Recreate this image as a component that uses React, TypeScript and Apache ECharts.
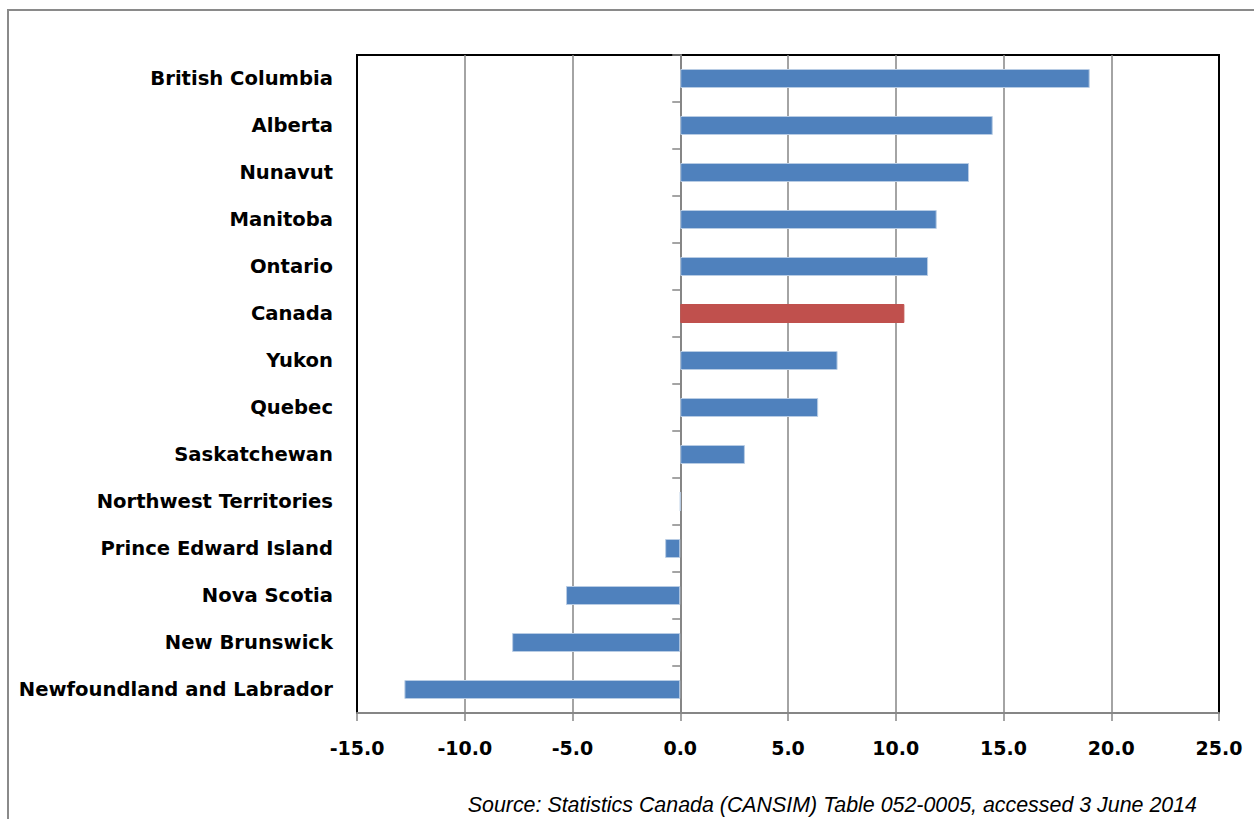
import React, { useEffect, useRef } from "react";
import * as echarts from "echarts";

const categories = [
  "British Columbia",
  "Alberta",
  "Nunavut",
  "Manitoba",
  "Ontario",
  "Canada",
  "Yukon",
  "Quebec",
  "Saskatchewan",
  "Northwest Territories",
  "Prince Edward Island",
  "Nova Scotia",
  "New Brunswick",
  "Newfoundland and Labrador",
];
const values = [19.0, 14.5, 13.4, 11.9, 11.5, 10.4, 7.3, 6.4, 3.0, 0.0, -0.7, -5.3, -7.8, -12.8];
const highlighted = ["Canada"];
const xTicks = [-15, -10, -5, 0, 5, 10, 15, 20, 25];
const sourceText = "Source: Statistics Canada (CANSIM) Table 052-0005, accessed 3 June 2014";

export default function App() {
  const ref = useRef<HTMLDivElement>(null);
  useEffect(() => {
    if (!ref.current) return;
    const chart = echarts.init(ref.current, null, { renderer: "svg" });
    const gray = "#868686";
    chart.setOption({
      animation: false,
      backgroundColor: "#ffffff",
      grid: {
        left: 357,
        right: 35,
        top: 55,
        bottom: 106,
        show: true,
        borderColor: "#000000",
        borderWidth: 2,
      },
      xAxis: {
        type: "value",
        min: xTicks[0],
        max: xTicks[xTicks.length - 1],
        interval: 5,
        axisLine: { show: true, onZero: false, lineStyle: { color: gray, width: 2 } },
        axisTick: { show: true, length: 8, lineStyle: { color: gray, width: 1.5 } },
        splitLine: {
          show: true,
          showMinLine: false,
          showMaxLine: false,
          lineStyle: { color: gray, width: 1.5 },
        },
        axisLabel: {
          margin: 25,
          fontFamily: "DejaVu Sans",
          fontWeight: "bold",
          fontSize: 19,
          color: "#000",
          formatter: (v: number) => v.toFixed(1),
        },
      },
      yAxis: [
        {
          type: "category",
          data: categories,
          inverse: true,
          axisLine: { show: false, onZero: false },
          axisTick: { show: false },
          axisLabel: {
            margin: 24,
            fontFamily: "DejaVu Sans",
            fontWeight: "bold",
            fontSize: 19.6,
            color: "#000",
          },
        },
        {
          type: "category",
          data: categories,
          inverse: true,
          position: "left",
          axisLine: { show: true, onZero: true, lineStyle: { color: gray, width: 2 } },
          axisTick: { show: true, length: 8, lineStyle: { color: gray, width: 1.5 } },
          axisLabel: { show: false },
          splitLine: { show: false },
        },
      ],
      series: [
        {
          type: "bar",
          yAxisIndex: 0,
          barWidth: 19,
          data: values.map((v, i) => ({
            value: v,
            itemStyle: {
              color: highlighted.includes(categories[i]) ? "#C0504D" : "#4F81BD",
              borderColor: highlighted.includes(categories[i]) ? "#C0504D" : "#B8CCE4",
              borderWidth: 1,
            },
          })),
        },
      ],
      graphic: [
        {
          type: "rect",
          shape: { x: 8, y: 10, width: 1260, height: 830 },
          style: { fill: "none", stroke: "#8a8a8a", lineWidth: 2 },
          silent: true,
          z: -1,
        },
        {
          type: "text",
          right: 57,
          top: 794,
          style: {
            text: sourceText,
            fontFamily: "Liberation Sans",
            fontStyle: "italic",
            fontSize: 21.4,
            fill: "#000",
          },
        },
      ],
    });
    return () => chart.dispose();
  }, []);
  return (
    <div
      ref={ref}
      style={{ position: "fixed", left: 0, top: 0, width: 1254, height: 819 }}
    />
  );
}
